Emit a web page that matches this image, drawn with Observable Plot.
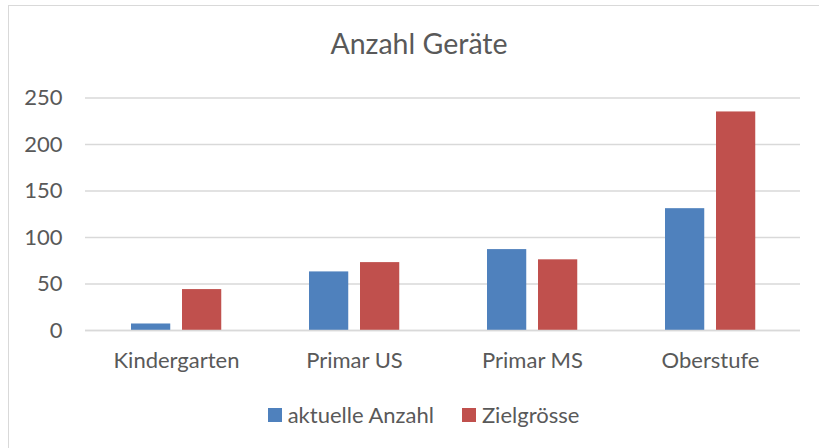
<!DOCTYPE html>
<html>
<head>
<meta charset="utf-8">
<script src="https://cdn.jsdelivr.net/npm/d3@7"></script>
<script src="https://cdn.jsdelivr.net/npm/@observablehq/plot@0.6"></script>
<style>
  html, body { margin: 0; padding: 0; background: #fff; overflow: hidden; width: 819px; height: 448px; }
  #frame { position: absolute; left: 8px; top: 5px; width: 840px; height: 470px; border: 1.5px solid #d9d9d9; box-sizing: border-box; }
  #title { position: absolute; left: 0; width: 838px; top: 26px; text-align: center; font-family: Lato, sans-serif; font-size: 28.5px; line-height: 1.2; color: #595959; }
  #chart { position: absolute; left: 0; top: 80px; }
  #legend { position: absolute; top: 400px; left: 0; width: 847px; height: 30px; display: flex; justify-content: center; align-items: center; font-family: Lato, sans-serif; font-size: 22px; line-height: 1.2; color: #595959; }
  .item { display: flex; align-items: center; margin: 0 14px; }
  .sw { width: 14px; height: 14px; margin-right: 6px; }
</style>
</head>
<body>
<div id="frame"></div>
<div id="title">Anzahl Geräte</div>
<div id="chart"></div>
<div id="legend"></div>
<script>
const categories = ["Kindergarten", "Primar US", "Primar MS", "Oberstufe"];
const seriesNames = ["aktuelle Anzahl", "Zielgrösse"];
const aktuell = [7, 63, 87, 131];
const ziel = [44, 73, 76, 235];
const yTicks = [0, 50, 100, 150, 200, 250];
const colors = ["#4F81BD", "#C0504D"];

const dataA = categories.map((c, i) => ({category: c, value: aktuell[i]}));
const dataZ = categories.map((c, i) => ({category: c, value: ziel[i]}));

const textColor = "#595959";

const chart = Plot.plot({
  width: 819,
  height: 310,
  marginLeft: 85,
  marginRight: 19,
  marginTop: 17.5,
  marginBottom: 60,
  style: {fontFamily: "Lato, sans-serif", fontSize: "22px", color: textColor, background: "transparent"},
  x: {domain: categories, padding: 0, label: null},
  y: {domain: [0, 250], label: null},
  marks: [
    Plot.gridY(yTicks, {stroke: "#d9d9d9", strokeOpacity: 1, strokeWidth: 1.5}),
    Plot.barY(dataA, {x: "category", y: "value", fill: colors[0], insetLeft: 44, insetRight: 94.75}),
    Plot.barY(dataZ, {x: "category", y: "value", fill: colors[1], insetLeft: 95, insetRight: 43.75}),
    Plot.ruleY([0], {stroke: "#d9d9d9", strokeWidth: 1.5}),
    Plot.axisY({ticks: yTicks, tickSize: 0, tickPadding: 23, fontSize: 22, fill: textColor, label: null}),
    Plot.axisX({tickSize: 0, tickPadding: 22, fontSize: 22, fill: textColor, label: null})
  ]
});
document.getElementById("chart").appendChild(chart);

const legend = document.getElementById("legend");
seriesNames.forEach((name, i) => {
  const item = document.createElement("div");
  item.className = "item";
  const sw = document.createElement("div");
  sw.className = "sw";
  sw.style.background = colors[i];
  const label = document.createElement("span");
  label.textContent = name;
  item.appendChild(sw);
  item.appendChild(label);
  legend.appendChild(item);
});
</script>
</body>
</html>
